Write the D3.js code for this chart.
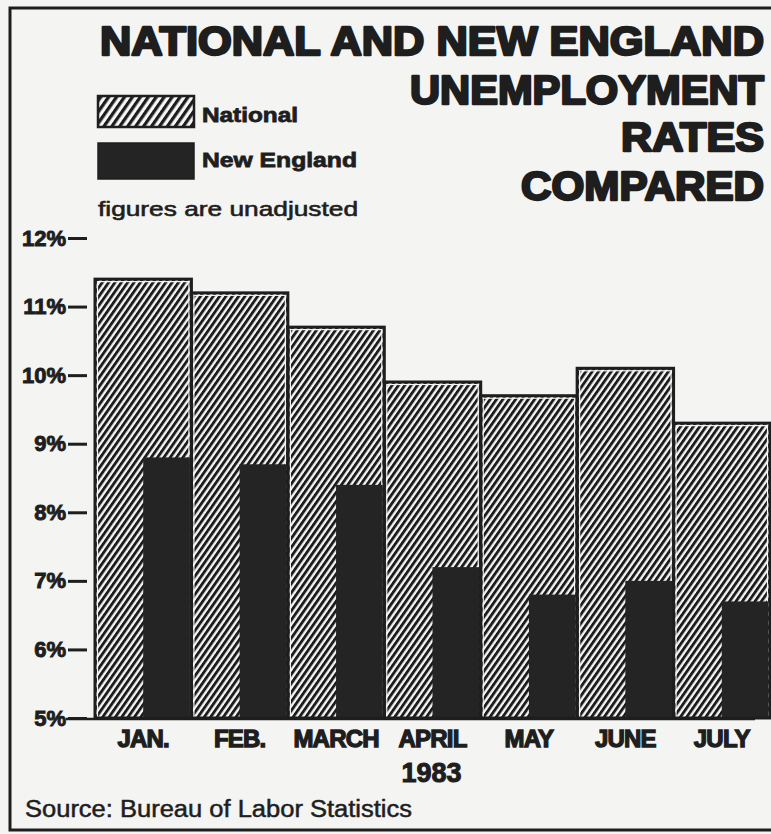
<!DOCTYPE html>
<html>
<head>
<meta charset="utf-8">
<script src="https://cdn.jsdelivr.net/npm/d3@7/dist/d3.min.js"></script>
<style>
  html, body { margin: 0; padding: 0; background: #f4f4f2; }
  svg { display: block; }
</style>
</head>
<body>
<script>
// ---- data ----
const months = ["JAN.", "FEB.", "MARCH", "APRIL", "MAY", "JUNE", "JULY"];
const national = [11.4, 11.2, 10.7, 9.9, 9.7, 10.1, 9.3];
const newEngland = [8.8, 8.7, 8.4, 7.2, 6.8, 7.0, 6.7];
const yTicks = [5, 6, 7, 8, 9, 10, 11, 12];
const titleLines = ["NATIONAL AND NEW ENGLAND", "UNEMPLOYMENT", "RATES", "COMPARED"];
const yearLabel = "1983";
const sourceText = "Source: Bureau of Labor Statistics";
const noteText = "figures are unadjusted";
const seriesNames = ["National", "New England"];

// ---- layout ----
const W = 771, H = 834;
const ink = "#1e1e1e";
const dark = "#242424";
const bg = "#f4f4f2";

const svg = d3.select("body").append("svg").attr("width", W).attr("height", H);
svg.append("rect").attr("width", W).attr("height", H).attr("fill", bg);

const defs = svg.append("defs");
function hatch(id, period, angle, frac) {
  const p = defs.append("pattern").attr("id", id)
    .attr("patternUnits", "userSpaceOnUse")
    .attr("width", period).attr("height", period)
    .attr("patternTransform", `rotate(${angle})`);
  p.append("rect").attr("width", period).attr("height", period).attr("fill", "#f6f6f6");
  p.append("rect").attr("width", period * frac).attr("height", period).attr("fill", "#1c1c1c");
}
hatch("hatch", 5.2, 35, 0.55);
hatch("hatchLegend", 6.5, 35, 0.5);

const x = d3.scaleBand().domain(months).range([95, 770]).padding(0);
const y = d3.scaleLinear().domain([5, 12]).range([718, 238]);

// frame
svg.append("path").attr("d", `M771,8 H10 V830 H771`)
  .attr("fill", "none").attr("stroke", ink).attr("stroke-width", 3);

// title
const tl = [
  { y: 55, w: 664 },
  { y: 104, w: 354 },
  { y: 151, w: 143 },
  { y: 200, w: 243 }
];
svg.append("g").selectAll("text").data(titleLines).join("text")
  .attr("x", 764).attr("y", (d, i) => tl[i].y)
  .attr("text-anchor", "end")
  .attr("font-family", "Liberation Sans, Arial, sans-serif")
  .attr("font-weight", "bold").attr("font-size", 40)
  .attr("fill", ink).attr("stroke", ink).attr("stroke-width", 2.4)
  .attr("stroke-linejoin", "round")
  .attr("textLength", (d, i) => tl[i].w).attr("lengthAdjust", "spacingAndGlyphs")
  .text(d => d);

// legend
const lg = svg.append("g");
lg.append("rect").attr("x", 98).attr("y", 96).attr("width", 96).attr("height", 31)
  .attr("fill", "url(#hatchLegend)").attr("stroke", ink).attr("stroke-width", 2.5);
lg.append("rect").attr("x", 98).attr("y", 143).attr("width", 96).attr("height", 36)
  .attr("fill", dark).attr("stroke", ink).attr("stroke-width", 1.5);
lg.selectAll("text.ser").data(seriesNames).join("text").attr("class", "ser")
  .attr("x", 202).attr("y", (d, i) => i === 0 ? 122 : 167)
  .attr("font-family", "Liberation Sans, Arial, sans-serif")
  .attr("font-weight", "bold").attr("font-size", 21)
  .attr("fill", ink).attr("stroke", ink).attr("stroke-width", 0.8)
  .attr("textLength", (d, i) => i === 0 ? 96 : 155).attr("lengthAdjust", "spacingAndGlyphs")
  .text(d => d);
lg.append("text").attr("x", 98).attr("y", 216)
  .attr("font-family", "Liberation Sans, Arial, sans-serif")
  .attr("font-size", 21).attr("fill", ink).attr("stroke", ink).attr("stroke-width", 0.6)
  .attr("textLength", 260).attr("lengthAdjust", "spacingAndGlyphs")
  .text(noteText);

// national bars
const bars = svg.append("g");
bars.selectAll("rect.nat").data(months).join("rect").attr("class", "nat")
  .attr("x", d => x(d))
  .attr("y", (d, i) => y(national[i]))
  .attr("width", x.bandwidth())
  .attr("height", (d, i) => y(5) - y(national[i]))
  .attr("fill", "url(#hatch)");
bars.selectAll("rect.natin").data(months).join("rect").attr("class", "natin")
  .attr("x", d => x(d) + 2.5)
  .attr("y", (d, i) => y(national[i]) + 2.5)
  .attr("width", x.bandwidth() - 5)
  .attr("height", (d, i) => y(5) - y(national[i]) - 2.5)
  .attr("fill", "none").attr("stroke", "#f6f6f6").attr("stroke-width", 1.2);
// new england bars
bars.selectAll("rect.ne").data(months).join("rect").attr("class", "ne")
  .attr("x", d => x(d) + x.bandwidth() / 2)
  .attr("y", (d, i) => y(newEngland[i]))
  .attr("width", x.bandwidth() / 2 - 1.5)
  .attr("height", (d, i) => y(5) - y(newEngland[i]))
  .attr("fill", dark);
// outlines of national bars
bars.selectAll("rect.natout").data(months).join("rect").attr("class", "natout")
  .attr("x", d => x(d))
  .attr("y", (d, i) => y(national[i]))
  .attr("width", x.bandwidth())
  .attr("height", (d, i) => y(5) - y(national[i]))
  .attr("fill", "none").attr("stroke", ink).attr("stroke-width", 3);

// baseline
svg.append("line").attr("x1", 66).attr("x2", 755).attr("y1", y(5) + 1).attr("y2", y(5) + 1)
  .attr("stroke", ink).attr("stroke-width", 2.5);

// y axis
const yAxis = d3.axisLeft(y).tickValues(yTicks).tickSize(19).tickPadding(2)
  .tickFormat(d => d + "%");
const ya = svg.append("g").attr("transform", "translate(87,0)").call(yAxis);
ya.select(".domain").remove();
ya.selectAll(".tick line").attr("stroke", ink).attr("stroke-width", 3);
ya.selectAll(".tick text")
  .attr("font-family", "Liberation Sans, Arial, sans-serif")
  .attr("font-weight", "bold").attr("font-size", 22)
  .attr("fill", ink).attr("stroke", ink).attr("stroke-width", 0.9);

// x axis labels
const xAxis = d3.axisBottom(x).tickSize(0).tickPadding(12);
const xa = svg.append("g").attr("transform", `translate(0,${y(5)})`).call(xAxis);
xa.select(".domain").remove();
xa.selectAll(".tick text")
  .attr("font-family", "Liberation Sans, Arial, sans-serif")
  .attr("font-weight", "bold").attr("font-size", 24)
  .attr("fill", ink).attr("stroke", ink).attr("stroke-width", 1.3)
  .attr("letter-spacing", -0.8);

svg.append("text").attr("x", x("APRIL") + x.bandwidth() / 2 - 1).attr("y", 782)
  .attr("text-anchor", "middle")
  .attr("font-family", "Liberation Sans, Arial, sans-serif")
  .attr("font-weight", "bold").attr("font-size", 27)
  .attr("fill", ink).attr("stroke", ink).attr("stroke-width", 1.0)
  .text(yearLabel);

svg.append("text").attr("x", 25).attr("y", 817)
  .attr("font-family", "Liberation Sans, Arial, sans-serif")
  .attr("font-size", 23).attr("fill", ink).attr("stroke", ink).attr("stroke-width", 0.5)
  .attr("textLength", 387).attr("lengthAdjust", "spacingAndGlyphs")
  .text(sourceText);
</script>
</body>
</html>
